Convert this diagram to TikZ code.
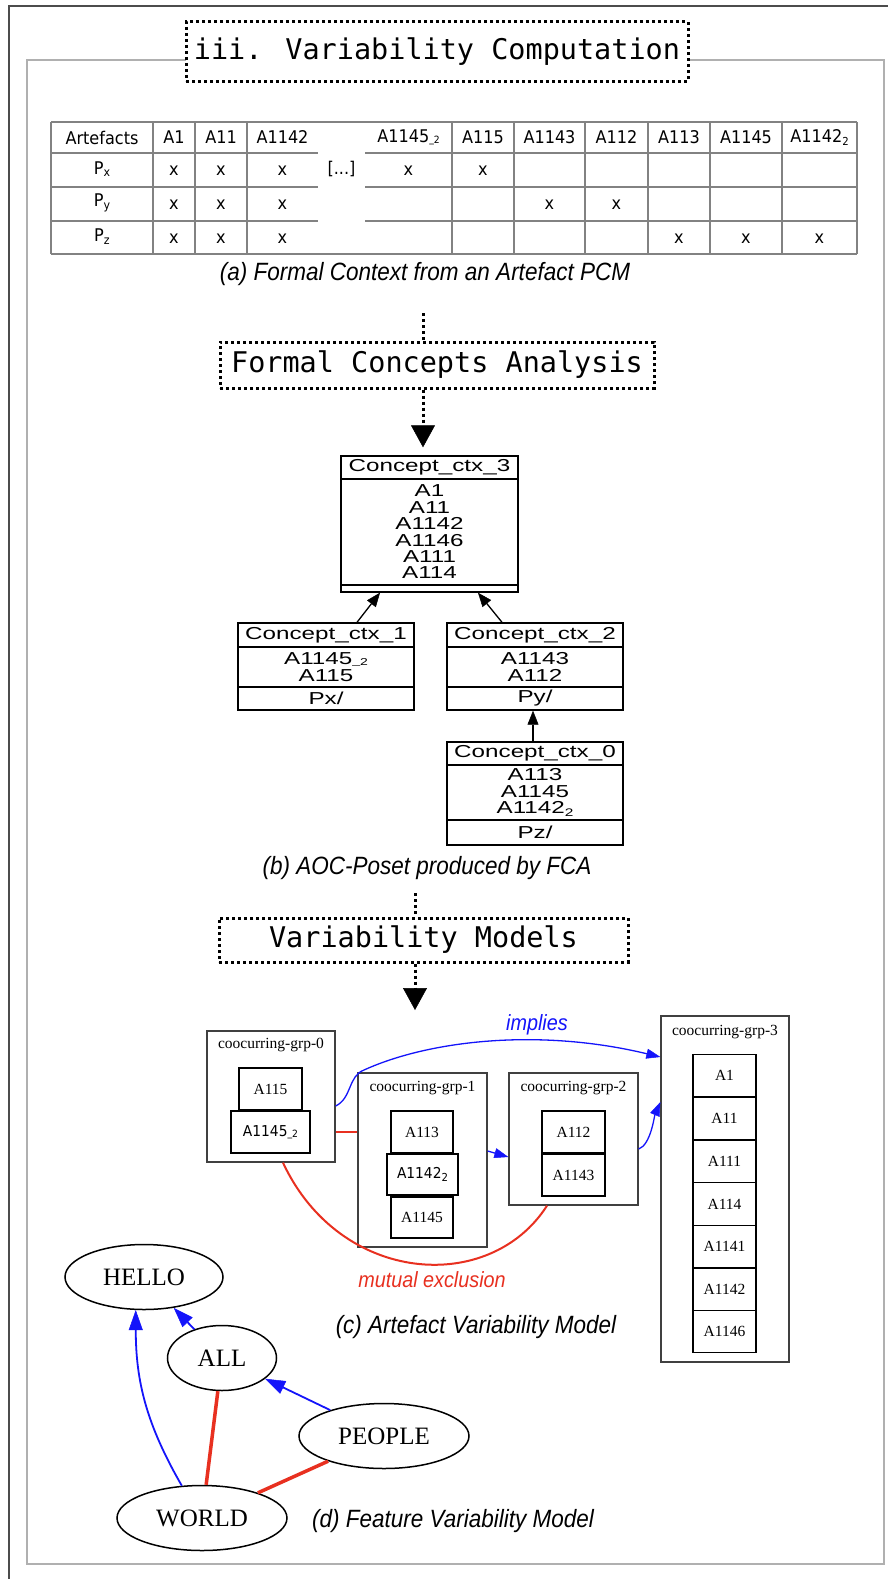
\documentclass[tikz,border=0pt]{standalone}
\usepackage{fontspec}
\setmainfont{Liberation Serif}
\usetikzlibrary{arrows.meta,shapes.geometric}
\newfontfamily\monof{DejaVu Sans Mono}
\newfontfamily\tabf[FakeStretch=0.92]{DejaVu Sans}
\newfontfamily\capf[FakeStretch=0.9]{Liberation Sans}
\newfontfamily\helvw[FakeStretch=1.4]{Liberation Sans}
\newfontfamily\timesf{Liberation Serif}
\definecolor{gvred}{RGB}{232,48,32}
\definecolor{gvblue}{RGB}{20,20,250}
\definecolor{framegray}{RGB}{176,176,176}
\definecolor{tablegray}{RGB}{130,130,130}
\newcommand{\fsz}[2]{\fontsize{#1}{#2}\selectfont}
\newcommand{\subu}{{\fontsize{10}{10}\selectfont\_\raisebox{-1pt}{2}}}
\newcommand{\subt}{\raisebox{-2.5pt}{\fontsize{11}{11}\selectfont 2}}
\newcommand{\subl}[1]{\raisebox{-2.5pt}{\fontsize{12}{12}\selectfont #1}}
\begin{document}
\begin{tikzpicture}[x=1pt,y=-1pt,
  dotbox/.style={draw, line width=3pt, dash pattern=on 3pt off 3pt, fill=white, inner sep=0pt, font=\monof\fsz{28.5}{30}},
  dotline/.style={line width=3pt, dash pattern=on 3pt off 3pt},
  bigtip/.style={-{Triangle[width=24pt,length=22pt,line width=0.5pt]}},
  tcell/.style={inner sep=0pt, font=\tabf\fsz{17.5}{19}},
  cbox/.style={draw, line width=1.4pt, rectangle, inner sep=0pt},
  ctext/.style={font=\helvw\fsz{17.3}{16.4}, align=center, inner sep=0pt},
  carrow/.style={line width=1.3pt, -{Triangle[width=11pt,length=14pt,line width=0.5pt]}},
  grp/.style={draw=black!75, line width=1.3pt, rectangle, inner sep=0pt},
  glabel/.style={inner sep=0pt, font=\timesf\fsz{15.5}{17}},
  item/.style={draw, line width=1.3pt, rectangle, inner sep=0pt, minimum width=63pt, font=\timesf\fsz{15.5}{17}},
  sitem/.style={item, font=\tabf\fsz{15}{16}},
  capt/.style={font=\capf\itshape\fsz{25}{28}, inner sep=0pt},
  elab/.style={font=\capf\itshape\fsz{22}{24}, inner sep=0pt},
  ell/.style={ellipse, draw, line width=1.5pt, inner sep=0pt, minimum height=65pt, font=\timesf\fsz{25}{28}},
  blarrow/.style={gvblue, line width=1.8pt, -{Triangle[width=14pt,length=20pt,line width=0.5pt]}},
  redline/.style={gvred, line width=3.5pt}
]
\useasboundingbox (0,0) rectangle (888,1579);
\fill[white] (0,0) rectangle (888,1579);
% frames
\draw[framegray, line width=2pt] (27,60) rectangle (884,1564);
\draw[black!70, line width=2pt] (9,1579) -- (9,6) -- (888,6);
\node[dotbox, minimum width=502pt, minimum height=59pt] (title) at (437,51.5) {iii. Variability Computation};

% table
\begin{scope}[tablegray, line width=1.5pt]
\draw (51,122) -- (857,122);
\draw (51,254) -- (857,254);
\foreach \yy in {153,187,221} {\draw (51,\yy) -- (318,\yy); \draw (365,\yy) -- (857,\yy);}
\foreach \xx in {51,153,195,247,452,514,585,648,710,782,857} {\draw (\xx,122) -- (\xx,254);}
\end{scope}
\foreach \xx/\tt [count=\i] in {102/Artefacts, 174/A1, 221/A11, 282.5/A1142, 408.5/{A1145\subu}, 483/A115, 549.5/A1143, 616.5/A112, 679/A113, 746/A1145, 819.5/{A1142\subt}}
  \node[tcell] (h\i) at (\xx,137.5) {\tt};
\node[tcell] (px) at (102,169) {P\subl{x}};
\node[tcell] (py) at (102,203) {P\subl{y}};
\node[tcell] (pz) at (102,236.5) {P\subl{z}};
\node[tcell] (dots) at (341.5,169) {[...]};
\foreach \xx [count=\i] in {174,221,282.5,408.5,483} \node[tcell] (mx\i) at (\xx,171) {x};
\foreach \xx [count=\i] in {174,221,282.5,549.5,616.5} \node[tcell] (my\i) at (\xx,205) {x};
\foreach \xx [count=\i] in {174,221,282.5,679,746,819.5} \node[tcell] (mz\i) at (\xx,238.5) {x};
\node[capt] (capa) at (425,274) {(a) Formal Context from an Artefact PCM};

% FCA
\coordinate (fcain) at (423,313);
\node[dotbox, minimum width=434pt, minimum height=46pt] (fca) at (437,365) {Formal Concepts Analysis};
\draw[dotline] (fcain) -- (fcain |- fca.north);

% concept boxes
\node[cbox, minimum width=177pt, minimum height=136pt] (c3) at (429.5,524) {};
\draw[line width=1.4pt] (c3.west |- 0,479) -- (c3.east |- 0,479);
\draw[line width=1.4pt] (c3.west |- 0,585) -- (c3.east |- 0,585);
\node[ctext] (c3h) at (429.5,467.5) {Concept\_ctx\_3};
\node[ctext] (c3i) at (429.5,532) {A1\\A11\\A1142\\A1146\\A111\\A114};

\node[cbox, minimum width=176pt, minimum height=87pt] (c1) at (326,666.5) {};
\draw[line width=1.4pt] (c1.west |- 0,647) -- (c1.east |- 0,647);
\draw[line width=1.4pt] (c1.west |- 0,687) -- (c1.east |- 0,687);
\node[ctext] (c1h) at (326,635) {Concept\_ctx\_1};
\node[ctext] (c1i) at (326,667) {A1145\subu\\A115};
\node[ctext] (c1p) at (326,698.5) {Px/};

\node[cbox, minimum width=176pt, minimum height=87pt] (c2) at (535,666.5) {};
\draw[line width=1.4pt] (c2.west |- 0,647) -- (c2.east |- 0,647);
\draw[line width=1.4pt] (c2.west |- 0,687) -- (c2.east |- 0,687);
\node[ctext] (c2h) at (535,635) {Concept\_ctx\_2};
\node[ctext] (c2i) at (535,667) {A1143\\A112};
\node[ctext] (c2p) at (535,698.5) {Py/};

\node[cbox, minimum width=176pt, minimum height=103pt] (c0) at (535,793.5) {};
\draw[line width=1.4pt] (c0.west |- 0,765) -- (c0.east |- 0,765);
\draw[line width=1.4pt] (c0.west |- 0,820) -- (c0.east |- 0,820);
\node[ctext] (c0h) at (535,753.5) {Concept\_ctx\_0};
\node[ctext] (c0i) at (535,792.5) {A113\\A1145\\A1142\subt};
\node[ctext] (c0p) at (535,832.5) {Pz/};

\draw[dotline, bigtip, shorten >=8pt] (fcain |- fca.south) -- (fcain |- c3.north);
\draw[carrow] ([xshift=31pt]c1.north) -- ([xshift=-49.5pt]c3.south);
\draw[carrow] ([xshift=-33pt]c2.north) -- ([xshift=48.5pt]c3.south);
\draw[carrow] ([xshift=-2pt]c0.north) -- ([xshift=-2pt]c2.south);
\node[capt] (capb) at (427,868) {(b) AOC-Poset produced by FCA};

% Variability models
\coordinate (vmin) at (415,893);
\node[dotbox, minimum width=409pt, minimum height=44pt] (vm) at (423.5,940) {Variability Models};
\draw[dotline] (vmin) -- (vmin |- vm.north);
\coordinate (vmtip) at (415,1010);
\draw[dotline, bigtip] (vmin |- vm.south) -- (vmtip);

% (c) groups
\node[grp, minimum width=128pt, minimum height=131pt] (g0) at (271,1096.5) {};
\node[glabel] (g0l) at (271,1045) {coocurring-grp-0};
\node[item, minimum width=63pt, minimum height=42pt] (a115) at (270.5,1089) {A115};
\node[sitem, minimum width=79pt, minimum height=42pt] (a1145u) at (270.5,1132) {A1145\subu};

\node[grp, minimum width=129pt, minimum height=174pt] (g1) at (422.5,1160) {};
\node[glabel] (g1l) at (422.5,1088) {coocurring-grp-1};
\node[item, minimum width=62pt, minimum height=42pt] (a113) at (422,1132) {A113};
\node[sitem, minimum width=71pt, minimum height=41pt] (a11422) at (422.5,1174.5) {A1142\subt};
\node[item, minimum width=62pt, minimum height=41pt] (a1145) at (422,1217.5) {A1145};

\node[grp, minimum width=129pt, minimum height=132pt] (g2) at (573.5,1139) {};
\node[glabel] (g2l) at (573.5,1088) {coocurring-grp-2};
\node[item, minimum height=42pt] (a112) at (573.5,1132) {A112};
\node[item, minimum height=42pt] (a1143) at (573.5,1175) {A1143};

\node[grp, minimum width=128pt, minimum height=346pt] (g3) at (725,1189) {};
\node[glabel] (g3l) at (725,1032) {coocurring-grp-3};
\foreach \yy/\tt [count=\i] in {1075.5/A1, 1118.5/A11, 1161.5/A111, 1204/A114, 1246.5/A1141, 1289.5/A1142, 1331.5/A1146}
  \node[item, minimum height=42.5pt] (r\i) at (724.5,\yy) {\tt};

% (c) edges
\draw[gvblue, line width=1.3pt, -{Triangle[width=10pt,length=14pt,line width=0.5pt]}]
  ([yshift=-9.5pt]g0.east) .. controls (352,1098) and (348,1076) .. (364,1070)
  .. controls (430,1040) and (540,1028) .. ([yshift=132pt]g3.west);
\draw[gvblue, line width=1.3pt, -{Triangle[width=10pt,length=14pt,line width=0.5pt]}]
  ([yshift=9pt]g1.east) -- ([yshift=-18pt]g2.west);
\draw[gvblue, line width=1.3pt, -{Triangle[width=10pt,length=14pt,line width=0.5pt]}]
  ([yshift=-10pt]g2.east) .. controls +(12,-4) and +(-6,14) .. ([yshift=87pt]g3.west);
\draw[gvred, line width=2pt] ([yshift=-35.5pt]g0.east) -- ([yshift=28pt]g1.west);
\draw[gvred, line width=2pt] ([xshift=12pt]g0.south) .. controls (340,1285) and (490,1295) .. ([xshift=-26.5pt]g2.south);
\node[elab, text=gvblue] (impl) at (537,1025) {implies};
\node[elab, text=gvred] (mutex) at (432,1280) {mutual exclusion};
\node[capt] (capc) at (476,1327) {(c) Artefact Variability Model};

% (d) feature model
\node[ell, minimum width=158pt] (hello) at (144,1277) {HELLO};
\node[ell, minimum width=109pt] (all) at (222,1358) {ALL};
\node[ell, minimum width=170pt] (people) at (384,1436) {PEOPLE};
\node[ell, minimum width=170pt] (world) at (202,1518) {WORLD};
\draw[blarrow] (world.122) to[out=120, in=-90] (hello.256);
\draw[blarrow] (all) -- (hello);
\draw[blarrow] (people) -- (all);
\draw[redline] (all) -- (world);
\draw[redline] (people) -- (world);
\node[capt] (capd) at (453,1521) {(d) Feature Variability Model};
\end{tikzpicture}
\end{document}
